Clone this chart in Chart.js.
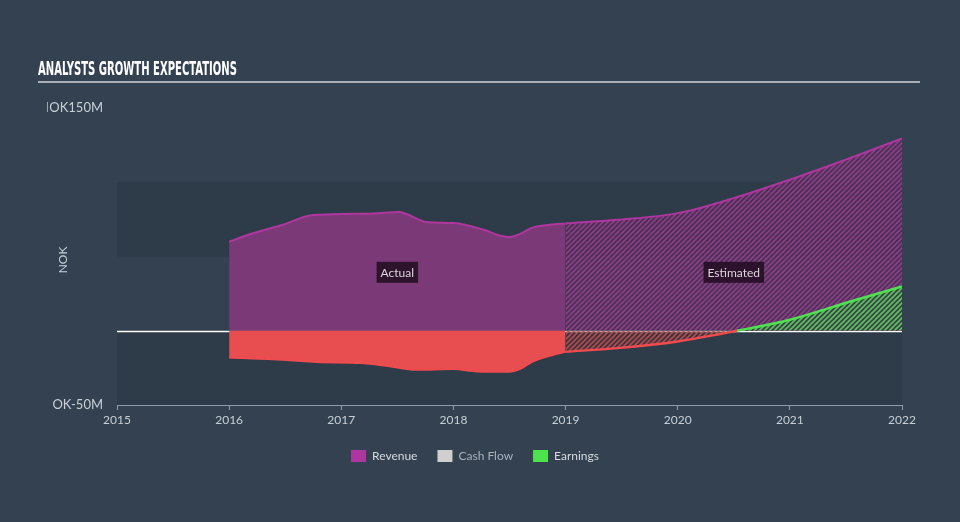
<!DOCTYPE html>
<html>
<head>
<meta charset="utf-8">
<script src="https://cdn.jsdelivr.net/npm/chart.js@4.4.0/dist/chart.umd.min.js"></script>
<style>
  html, body { margin: 0; padding: 0; background: #334150; }
  #wrap { width: 960px; height: 522px; }
</style>
</head>
<body>
<div id="wrap"><canvas id="chart" width="960" height="522"></canvas></div>
<script>
(function () {
  'use strict';

  // ── Data (NOK millions, x = fractional year) ──
  const revActualYears  = [2016, 2016.22, 2016.48, 2016.72, 2016.99, 2017.29, 2017.51, 2017.58, 2017.76, 2018.0, 2018.27, 2018.42, 2018.5, 2018.59, 2018.71, 2018.86, 2019.0];
  const revActualValues = [60, 65.8, 71.4, 77.6, 78.6, 79.0, 79.9, 78.6, 73.2, 72.5, 68.0, 64.0, 63.1, 65.1, 69.6, 71.4, 72.3];
  const revEstYears     = [2019.0, 2019.46, 2020.0, 2020.5, 2021.0, 2021.54, 2022.0];
  const revEstValues    = [72.3, 74.7, 79.2, 89.3, 101.7, 116.3, 129.5];

  const earnActualYears  = [2016, 2016.48, 2016.78, 2017.17, 2017.4, 2017.67, 2018.0, 2018.21, 2018.5, 2018.59, 2018.71, 2018.86, 2019.0];
  const earnActualValues = [-18.0, -19.5, -21.1, -21.8, -23.6, -26.3, -25.8, -27.4, -27.6, -25.8, -20.6, -16.8, -14.1];
  const earnEstYears     = [2019.0, 2019.46, 2020.0, 2020.53, 2021.0, 2021.54, 2022.0];
  const earnEstValues    = [-14.1, -11.7, -7.2, 0, 7.4, 19.7, 29.8];

  // sliver = how much of the leading "N" stays visible (the original clips it)
  const yTickLabels = [{ value: 150, text: 'NOK150M', sliver: 2 }, { value: -50, text: 'NOK-50M', sliver: 0 }];

  const BAND = '#2e3b49';
  const PURPLE = '#b0369f';
  const PURPLE_FILL = '#7b3a77';
  const RED = '#f04b4e';
  const RED_FILL = '#e84d4f';
  const GREEN = '#4ee24e';
  const TEXT = '#c9cfd6';

  const toPts = (xs, ys) => xs.map((x, i) => ({ x, y: ys[i] }));

  // ── Hatch patterns for the estimated areas ──
  function makeHatch(base, stripe) {
    const c = document.createElement('canvas');
    c.width = 5; c.height = 5;
    const g = c.getContext('2d');
    g.fillStyle = base;
    g.fillRect(0, 0, 5, 5);
    g.strokeStyle = stripe;
    g.lineWidth = 1.6;
    g.beginPath();
    g.moveTo(0, 5); g.lineTo(5, 0);
    g.moveTo(-1, 1); g.lineTo(1, -1);
    g.moveTo(4, 6); g.lineTo(6, 4);
    g.stroke();
    return g.createPattern(c, 'repeat');
  }
  const purpleHatch = makeHatch('rgba(90,45,90,0.55)', 'rgba(150,60,140,0.95)');
  const redHatch = makeHatch('rgba(70,50,60,0.4)', 'rgba(200,75,75,0.9)');
  const greenHatch = makeHatch('rgba(40,90,60,0.45)', 'rgba(90,200,90,0.95)');

  // ── Background bands, zero line, titles ──
  const decorPlugin = {
    id: 'decor',
    beforeDatasetsDraw(chart) {
      const { ctx, chartArea: a, scales: { y } } = chart;
      ctx.save();
      ctx.fillStyle = BAND;
      ctx.fillRect(a.left, y.getPixelForValue(100), a.right - a.left, y.getPixelForValue(50) - y.getPixelForValue(100));
      ctx.fillRect(a.left, y.getPixelForValue(0), a.right - a.left, y.getPixelForValue(-50) - y.getPixelForValue(0));
      const y0 = Math.round(y.getPixelForValue(0)) + 0.5;
      ctx.strokeStyle = '#ffffff';
      ctx.lineWidth = 1.3;
      ctx.beginPath();
      ctx.moveTo(a.left, y0);
      ctx.lineTo(a.right, y0);
      ctx.stroke();
      ctx.restore();
    },
    afterDatasetsDraw(chart) {
      const { ctx, scales: { x, y } } = chart;
      ctx.save();
      ctx.font = '12px Lato, sans-serif';
      ctx.textAlign = 'center';
      ctx.textBaseline = 'middle';
      [['Actual', 2017.5], ['Estimated', 2020.5]].forEach(([txt, yr]) => {
        const cx = x.getPixelForValue(yr);
        const cy = y.getPixelForValue(39.7);
        const w = ctx.measureText(txt).width + 8;
        ctx.fillStyle = 'rgba(35,14,35,0.88)';
        ctx.fillRect(cx - w / 2, cy - 10, w, 21);
        ctx.fillStyle = '#ddd6dc';
        ctx.fillText(txt, cx, cy + 1);
      });
      ctx.restore();
    },
    afterDraw(chart) {
      const { ctx, scales: { y } } = chart;
      ctx.save();
      // title
      ctx.fillStyle = '#ffffff';
      ctx.font = 'bold 20px "Liberation Sans Narrow", "DejaVu Sans Condensed", sans-serif';
      ctx.textBaseline = 'alphabetic';
      ctx.textAlign = 'left';
      ctx.fillText('ANALYSTS GROWTH EXPECTATIONS', 38, 75, 199);
      ctx.fillStyle = '#a9b0b8';
      ctx.fillRect(38, 81, 882, 2);
      ctx.restore();
      // y labels, leading letter clipped like the original
      ctx.font = '13px Lato, sans-serif';
      yTickLabels.forEach(t => {
        const right = 103;
        const full = ctx.measureText(t.text).width;
        const nW = ctx.measureText('N').width;
        const clipX = right - full + nW - t.sliver;
        ctx.save();
        ctx.beginPath();
        ctx.rect(clipX, 0, 200, 522);
        ctx.clip();
        ctx.fillStyle = TEXT;
        ctx.textAlign = 'right';
        ctx.textBaseline = 'middle';
        ctx.fillText(t.text, right, y.getPixelForValue(t.value));
        ctx.restore();
      });
      // axis title
      ctx.save();
      ctx.translate(63, 260);
      ctx.rotate(-Math.PI / 2);
      ctx.fillStyle = TEXT;
      ctx.font = '12px Lato, sans-serif';
      ctx.textAlign = 'center';
      ctx.textBaseline = 'middle';
      ctx.fillText('NOK', 0, 0);
      ctx.restore();
    }
  };

  const lineBase = { pointRadius: 0, cubicInterpolationMode: 'monotone', borderWidth: 2 };

  new Chart(document.getElementById('chart'), {
    type: 'line',
    data: {
      datasets: [
        Object.assign({ label: 'Earnings', data: toPts(earnActualYears, earnActualValues), borderColor: RED, backgroundColor: RED_FILL, fill: 'origin' }, lineBase),
        Object.assign({
          label: 'Earnings est', data: toPts(earnEstYears, earnEstValues),
          borderColor: RED,
          segment: { borderColor: c => (c.p1.parsed.y > 0 ? GREEN : RED) },
          fill: { target: 'origin', above: greenHatch, below: redHatch }
        }, lineBase, { borderWidth: 2.4 }),
        Object.assign({ label: 'Revenue', data: toPts(revActualYears, revActualValues), borderColor: PURPLE, backgroundColor: PURPLE_FILL, fill: 'origin' }, lineBase),
        Object.assign({ label: 'Revenue est', data: toPts(revEstYears, revEstValues), borderColor: PURPLE, backgroundColor: purpleHatch, fill: 'origin' }, lineBase),
        { label: 'Cash Flow', data: [], borderColor: '#cccccc', backgroundColor: '#cccccc' }
      ]
    },
    options: {
      responsive: false,
      animation: false,
      layout: { padding: { left: 48, right: 58, top: 108, bottom: 50 } },
      plugins: {
        tooltip: { enabled: false },
        legend: {
          position: 'bottom',
          onClick: null,
          labels: {
            boxWidth: 15,
            boxHeight: 12,
            padding: 20,
            font: { family: 'Lato, sans-serif', size: 12 },
            generateLabels: () => [
              { text: 'Revenue', fillStyle: PURPLE, strokeStyle: PURPLE, lineWidth: 0, fontColor: '#d6dadf', datasetIndex: 2 },
              { text: 'Cash Flow', fillStyle: '#cfcfcf', strokeStyle: '#cfcfcf', lineWidth: 0, fontColor: '#a9b1ba', datasetIndex: 4 },
              { text: 'Earnings', fillStyle: GREEN, strokeStyle: GREEN, lineWidth: 0, fontColor: '#d6dadf', datasetIndex: 0 }
            ]
          }
        }
      },
      scales: {
        x: {
          type: 'linear',
          min: 2015,
          max: 2022,
          afterFit: s => { s.height = 25; },
          ticks: { stepSize: 1, color: TEXT, font: { family: 'Lato, sans-serif', size: 12 }, padding: 3, callback: v => String(v) },
          grid: { drawOnChartArea: false, drawTicks: true, tickLength: 5, color: '#8f9cab' },
          border: { color: '#8f9cab', width: 1 }
        },
        y: {
          min: -50,
          max: 150,
          afterFit: s => { s.width = 69; },
          ticks: { display: false },
          grid: { display: false },
          border: { display: false }
        }
      }
    },
    plugins: [decorPlugin]
  });
})();
</script>
</body>
</html>
